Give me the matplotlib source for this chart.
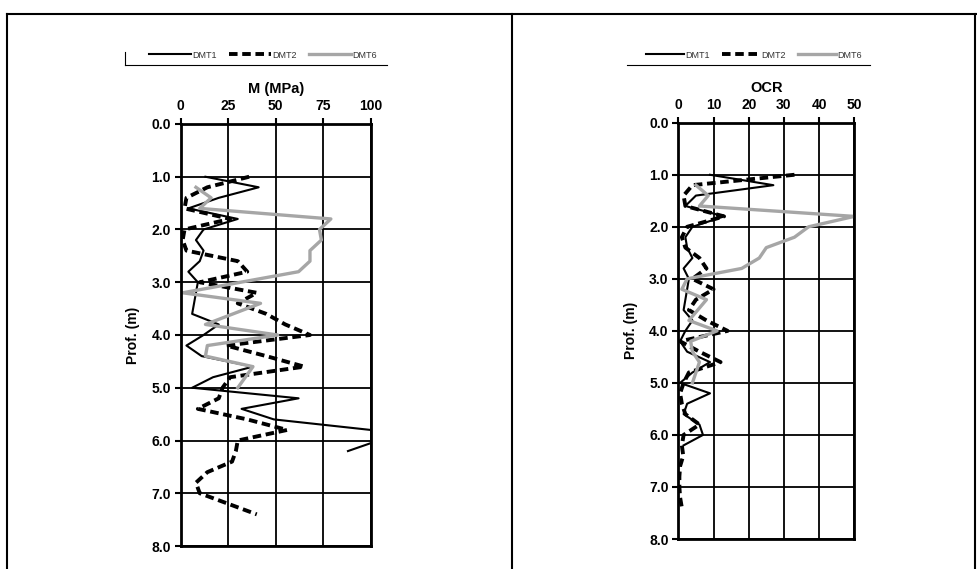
import matplotlib
matplotlib.use("Agg")
import matplotlib.pyplot as plt
from matplotlib.lines import Line2D

plt.rcParams['font.family'] = ['Liberation Sans', 'DejaVu Sans']

# ---- data (depth in m) ----
m_dmt1_z = [1.0, 1.2, 1.4, 1.6, 1.8, 2.0, 2.2, 2.4, 2.6, 2.8, 3.0, 3.2, 3.4, 3.6, 3.8, 4.0,
            4.2, 4.4, 4.6, 4.8, 5.0, 5.2, 5.4, 5.6, 5.8, 6.0, 6.2]
m_dmt1 = [13, 41, 20, 4, 30, 12, 8, 12, 10, 4, 9, 8, 7, 6, 20, 12,
          3, 11, 38, 17, 6, 62, 32, 49, 100, 104, 88]

m_dmt2_z = [1.0, 1.2, 1.4, 1.6, 1.8, 2.0, 2.2, 2.4, 2.6, 2.8, 3.0, 3.2, 3.4, 3.6, 3.8, 4.0,
            4.2, 4.4, 4.6, 4.8, 5.0, 5.2, 5.4, 5.6, 5.8, 6.0, 6.2, 6.4, 6.6, 6.8, 7.0, 7.2, 7.4]
m_dmt2 = [36, 14, 3, 2, 26, 2, 1, 3, 30, 35, 10, 40, 30, 45, 55, 68,
          24, 45, 65, 26, 22, 20, 9, 35, 56, 30, 29, 27, 14, 8, 10, 25, 40]

m_dmt6_z = [1.2, 1.4, 1.6, 1.8, 2.0, 2.2, 2.4, 2.6, 2.8, 3.2, 3.4, 3.8, 4.0, 4.2, 4.4, 4.6, 5.0]
m_dmt6 = [8, 16, 10, 79, 73, 74, 68, 68, 62, 1, 42, 13, 51, 14, 13, 38, 30]

ocr_dmt1_z = m_dmt1_z
ocr_dmt1 = [9, 27, 5, 2, 13, 4, 2, 2.5, 4, 1.5, 3, 2.5, 2, 1.5, 4, 2,
            0.5, 2.5, 9, 4, 0.5, 9, 2.5, 1.5, 6, 7, 1.5]

ocr_dmt2_z = m_dmt2_z
ocr_dmt2 = [33, 4, 1.5, 2, 13, 2.5, 1, 2, 6, 8, 4, 10, 5, 3, 8, 14,
            0.5, 6, 12, 3, 1.5, 0.5, 1, 2, 6, 1.5, 1, 1.4, 0.5, 0.3, 0.3, 0.5, 1]

ocr_dmt6_z = [1.2, 1.4, 1.6, 1.8, 2.0, 2.2, 2.4, 2.6, 2.8, 3.0, 3.2, 3.4, 3.8, 4.0, 4.2, 4.4, 4.6, 5.0]
ocr_dmt6 = [5, 8.5, 6, 50, 37, 33, 25, 23, 18, 2.5, 1, 8, 3, 11, 3.5, 4, 6, 4]

labels = ['DMT1', 'DMT2', 'DMT6']
y_ticks = [0, 1, 2, 3, 4, 5, 6, 7, 8]

GRAY = '#a6a6a6'


def style_axes(ax, xmax, xstep, title):
    ax.set_xlim(0, xmax)
    ax.set_ylim(8, 0)
    ax.set_xticks(range(0, xmax + 1, xstep))
    ax.set_yticks(y_ticks)
    ax.set_yticklabels([f"{v:.1f}" for v in y_ticks])
    ax.xaxis.tick_top()
    ax.xaxis.set_label_position('top')
    ax.set_xlabel(title, fontsize=10.5, fontweight='bold', labelpad=4)
    ax.set_ylabel('Prof. (m)', fontsize=10, fontweight='bold', labelpad=8)
    ax.grid(True, color='black', linewidth=1.3)
    ax.set_axisbelow(True)
    for s in ax.spines.values():
        s.set_linewidth(2)
    ax.tick_params(axis='x', length=4, width=1.5, pad=4, labelsize=10)
    ax.tick_params(axis='y', length=4, width=1.5, pad=3, labelsize=10)
    for t in ax.get_xticklabels() + ax.get_yticklabels():
        t.set_fontweight('bold')


def plot_panel(ax, d1z, d1, d2z, d2, d6z, d6):
    h1, = ax.plot(d1, d1z, color='black', lw=1.5, label=labels[0])
    h2, = ax.plot(d2, d2z, color='black', lw=2.8, ls=(0, (2.2, 1.2)), label=labels[1])
    h6, = ax.plot(d6, d6z, color=GRAY, lw=2.4, label=labels[2])
    return [h1, h2, h6]


fig = plt.figure(figsize=(9.77, 5.69), dpi=100)

ax1 = fig.add_axes([0.185, 0.0404, 0.1945, 0.7417])
ax2 = fig.add_axes([0.6943, 0.0527, 0.1801, 0.7316])

hs1 = plot_panel(ax1, m_dmt1_z, m_dmt1, m_dmt2_z, m_dmt2, m_dmt6_z, m_dmt6)
hs2 = plot_panel(ax2, ocr_dmt1_z, ocr_dmt1, ocr_dmt2_z, ocr_dmt2, ocr_dmt6_z, ocr_dmt6)

style_axes(ax1, 100, 25, 'M (MPa)')
style_axes(ax2, 50, 10, 'OCR')

# legends above each panel
for hs, xc, hl in [(hs1, 263 / 977, 4.6), (hs2, 754 / 977, 4.2)]:
    fig.legend(handles=hs, loc='center', bbox_to_anchor=(xc, 1 - 55 / 569), ncol=3,
               frameon=False, fontsize=6.5, handlelength=hl, handletextpad=0.15,
               columnspacing=1.4, labelcolor='#333333')

# rules under the legends
fig.add_artist(Line2D([125 / 977, 387 / 977], [1 - 65 / 569] * 2, color='black', lw=0.8))
fig.add_artist(Line2D([125 / 977, 125 / 977], [1 - 65 / 569, 1 - 52 / 569], color='black', lw=0.8))
fig.add_artist(Line2D([627 / 977, 870 / 977], [1 - 65 / 569] * 2, color='black', lw=0.8))

# outer frame
fy = 1 - 14 / 569
fig.add_artist(Line2D([7 / 977, 1], [fy, fy], color='black', lw=1.5))
fig.add_artist(Line2D([7 / 977, 7 / 977], [0, fy], color='black', lw=1.5))
fig.add_artist(Line2D([512 / 977, 512 / 977], [0, fy], color='black', lw=1.5))
fig.add_artist(Line2D([975 / 977, 975 / 977], [0, fy], color='black', lw=1.5))

fig.savefig('out.png', dpi=100)
